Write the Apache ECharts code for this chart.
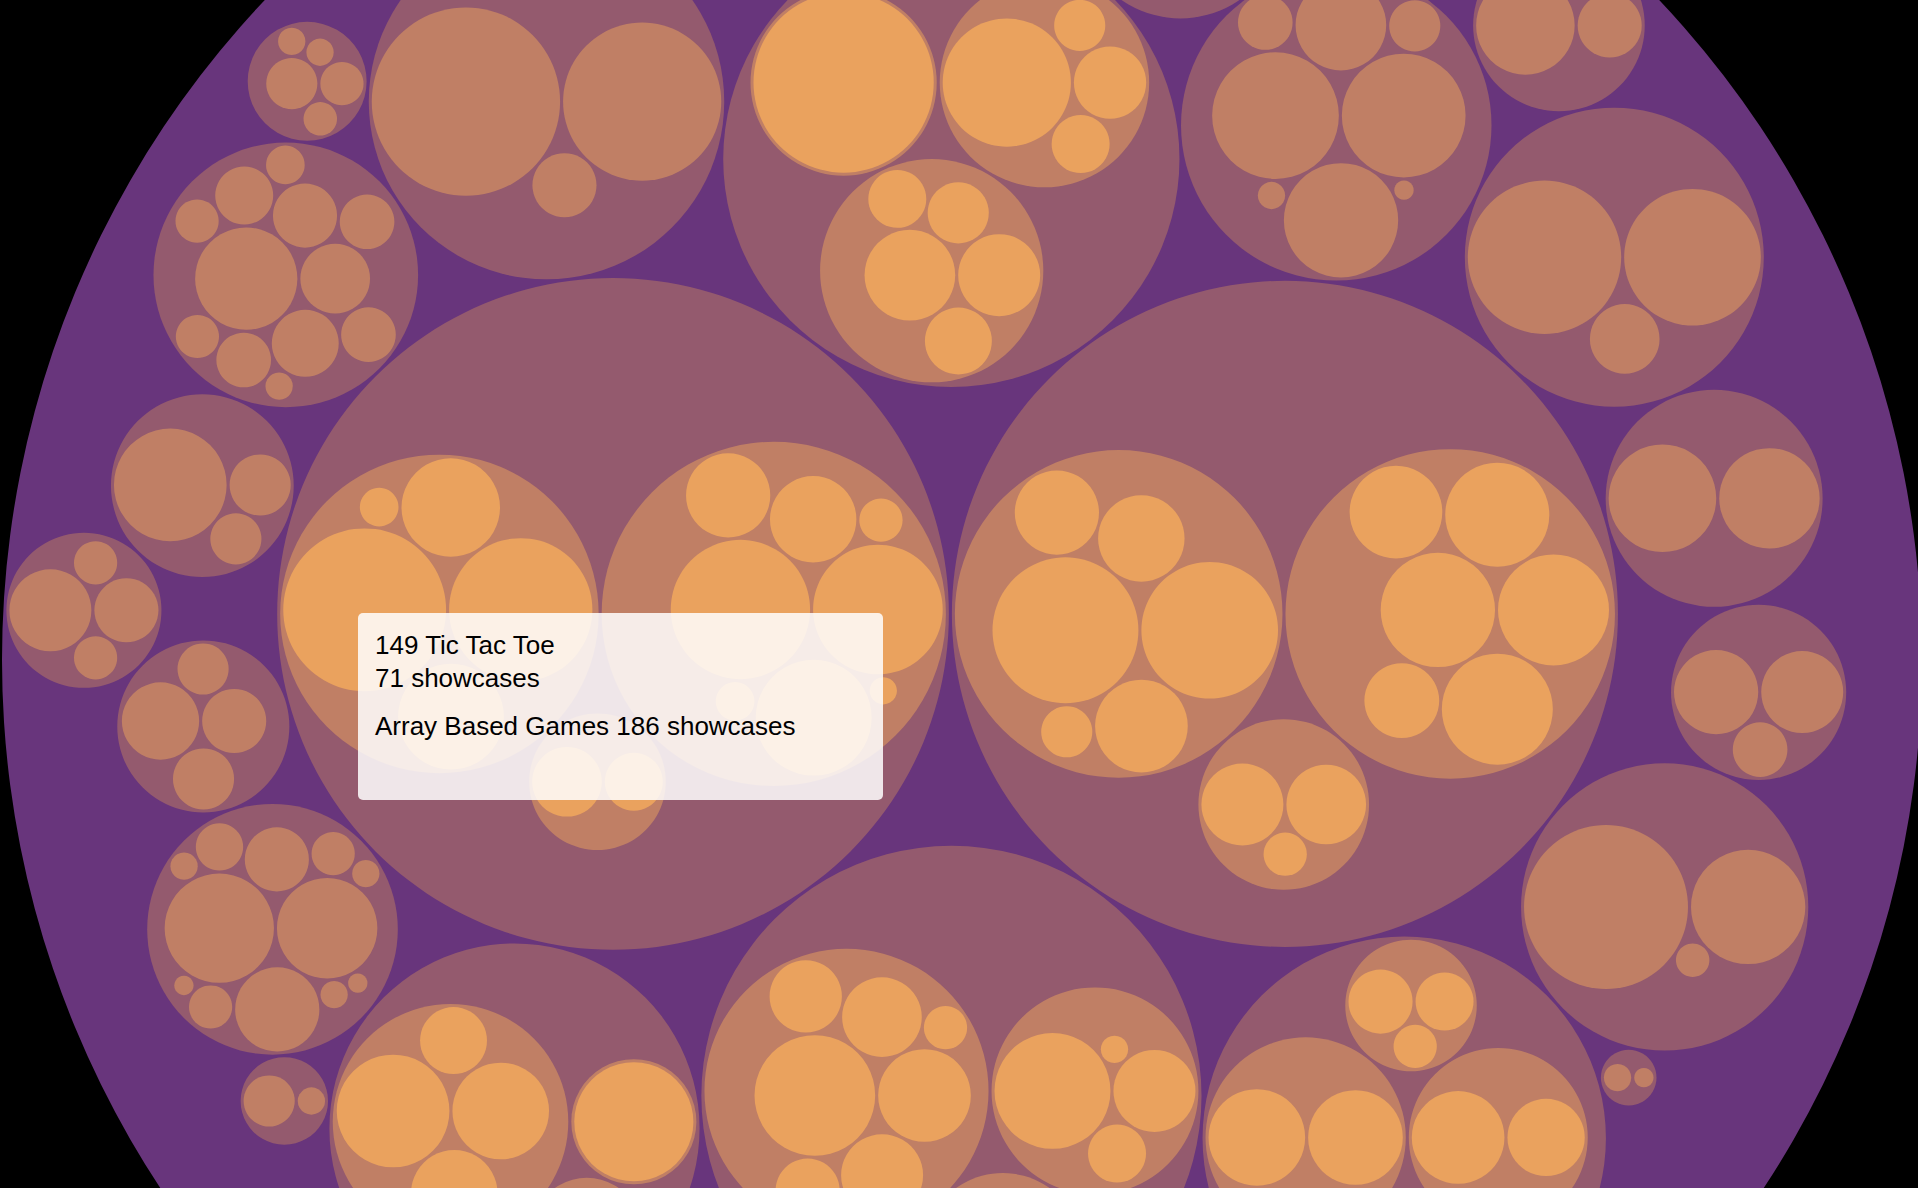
<!DOCTYPE html>
<html>
<head>
<meta charset="utf-8">
<style>
html,body{margin:0;padding:0;background:#000;}
#chart{width:1918px;height:1188px;}
</style>
<script src="https://cdn.jsdelivr.net/npm/echarts@6/dist/echarts.min.js"></script>
</head>
<body>
<div id="chart"></div>
<script>
// ---- DATA: showcases per project.
// Each depth-1 group lists its depth-2 nodes: a number = a leaf (showcases),
// an array = the showcases of its depth-3 leaves. Groups are listed in packing order.
const groupH = [[71, 55, 30, 26, 4], [52, 45, 36, 20, 19, 5, 4, 2], [13, 9]];
const groupI = [[57, 50, 23, 20, 19, 7], [35, 33, 33, 29, 23, 15], [18, 17, 5]];
const groupS = [[39, 23, 18, 17, 14, 11, 5], [36, 18, 9, 2], [15, 14, 11, 2]];
const groupC = [[87], [44, 14, 9, 7], [22, 18, 12, 10, 9]];
const groupB = [95, 67, 11];
const groupD = [43, 41, 35, 22, 8, 7, 2, 1];
const groupR = [[34, 25, 20, 12], [38], [9, 5]];
const groupT = [[25, 24], [23, 16], [11, 9, 6], [11, 9, 5]];
const groupF = [63, 50, 13];
const groupG = [28, 13, 12, 11, 9, 8, 8, 8, 5, 5, 4, 2];
const groupP = [32, 27, 19, 11, 6, 5, 5, 2, 2, 2, 1, 1];
const groupL = [72, 35, 3];
// groups lying mostly outside the visible window (top and bottom of the root circle)
const groupV2 = [28, 25];
const groupV1 = [30, 24];
const groupW1 = [60, 40, 10];
const groupW2 = [60, 40, 10];
const groupJ = [31, 27];
const groupM = [34, 10, 7];
const groupO = [16, 11, 10, 7];
const groupK = [19, 18, 8];
const groupX1 = [26, 24];
const groupX2 = [4, 3];
const groupN = [18, 11, 5, 5];
const groupE = [26, 11];
const groupY1 = [7, 5];
const groupA = [7, 5, 3, 2, 2];
const groupWb = [37, 33];
const groupY2 = [7, 5];
const groupQ = [7, 2];
const groupU = [2, 1];
const groups = [groupH, groupI, groupS, groupC, groupB, groupD, groupR, groupT, groupF, groupG,
  groupP, groupL, groupV2, groupV1, groupW1, groupW2, groupJ, groupM, groupO, groupK, groupX1, groupX2,
  groupN, groupE, groupY1, groupA, groupWb, groupY2, groupQ, groupU];

// tooltip content (hovered project and its parent)
const tipLeafName = '149 Tic Tac Toe';
const tipParentName = 'Array Based Games';
const tipLeafValue = groupH[0][0];
const tipParentValue = groupH[0].reduce((s, v) => s + v, 0);

const depthColors = ['#68357c', '#945a6e', '#c07f65', '#eaa25e'];

// ---- hierarchy
function buildTree() {
  const root = { depth: 0, children: [] };
  groups.forEach(g => {
    const n1 = { depth: 1, children: [] };
    g.forEach(item => {
      if (Array.isArray(item)) n1.children.push({ depth: 2, children: item.map(v => ({ depth: 3, value: v })) });
      else n1.children.push({ depth: 2, value: item });
    });
    root.children.push(n1);
  });
  (function sum(n) { if (n.children) n.value = n.children.reduce((s, c) => s + sum(c), 0); return n.value; })(root);
  (function srt(n) {
    if (n.children) { if (n.depth > 0) n.children.sort((a, b) => b.value - a.value); n.children.forEach(srt); }
  })(root);
  return root;
}

// ---- circle packing (front-chain sibling packing + minimal enclosing circle)
function lcg() { let s = 1; return () => (s = (1664525 * s + 1013904223) % 4294967296) / 4294967296; }
const random = lcg();
function shuffle(a) { let m = a.length, t, i; while (m) { i = random() * m-- | 0; t = a[m]; a[m] = a[i]; a[i] = t; } return a; }
function enclosesNot(a, b) { const dr = a.r - b.r, dx = b.x - a.x, dy = b.y - a.y; return dr < 0 || dr * dr < dx * dx + dy * dy; }
function enclosesWeak(a, b) { const dr = a.r - b.r + Math.max(a.r, b.r, 1) * 1e-9, dx = b.x - a.x, dy = b.y - a.y; return dr > 0 && dr * dr > dx * dx + dy * dy; }
function enclosesWeakAll(a, B) { for (let i = 0; i < B.length; ++i) if (!enclosesWeak(a, B[i])) return false; return true; }
function eb1(a) { return { x: a.x, y: a.y, r: a.r }; }
function eb2(a, b) {
  const x1 = a.x, y1 = a.y, r1 = a.r, x2 = b.x, y2 = b.y, r2 = b.r;
  const x21 = x2 - x1, y21 = y2 - y1, r21 = r2 - r1, l = Math.sqrt(x21 * x21 + y21 * y21);
  return { x: (x1 + x2 + x21 / l * r21) / 2, y: (y1 + y2 + y21 / l * r21) / 2, r: (l + r1 + r2) / 2 };
}
function eb3(a, b, c) {
  const x1 = a.x, y1 = a.y, r1 = a.r, x2 = b.x, y2 = b.y, r2 = b.r, x3 = c.x, y3 = c.y, r3 = c.r;
  const a2 = x1 - x2, a3 = x1 - x3, b2 = y1 - y2, b3 = y1 - y3, c2 = r2 - r1, c3 = r3 - r1;
  const d1 = x1 * x1 + y1 * y1 - r1 * r1, d2 = d1 - x2 * x2 - y2 * y2 + r2 * r2, d3 = d1 - x3 * x3 - y3 * y3 + r3 * r3;
  const ab = a3 * b2 - a2 * b3;
  const xa = (b2 * d3 - b3 * d2) / (ab * 2) - x1, xb = (b3 * c2 - b2 * c3) / ab;
  const ya = (a3 * d2 - a2 * d3) / (ab * 2) - y1, yb = (a2 * c3 - a3 * c2) / ab;
  const A = xb * xb + yb * yb - 1, B = 2 * (r1 + xa * xb + ya * yb), C = xa * xa + ya * ya - r1 * r1;
  const r = -(Math.abs(A) > 1e-6 ? (B + Math.sqrt(B * B - 4 * A * C)) / (2 * A) : C / B);
  return { x: x1 + xa + xb * r, y: y1 + ya + yb * r, r: r };
}
function encloseBasis(B) { return B.length === 1 ? eb1(B[0]) : B.length === 2 ? eb2(B[0], B[1]) : eb3(B[0], B[1], B[2]); }
function extendBasis(B, p) {
  if (enclosesWeakAll(p, B)) return [p];
  for (let i = 0; i < B.length; ++i) if (enclosesNot(p, B[i]) && enclosesWeakAll(eb2(B[i], p), B)) return [B[i], p];
  for (let i = 0; i < B.length - 1; ++i) for (let j = i + 1; j < B.length; ++j) {
    if (enclosesNot(eb2(B[i], B[j]), p) && enclosesNot(eb2(B[i], p), B[j]) &&
        enclosesNot(eb2(B[j], p), B[i]) && enclosesWeakAll(eb3(B[i], B[j], p), B)) return [B[i], B[j], p];
  }
  return [p];
}
function enclose(circles) {
  let i = 0; const list = shuffle(circles.slice()); const n = list.length; let B = [], p, e;
  while (i < n) { p = list[i]; if (e && enclosesWeak(e, p)) ++i; else { B = extendBasis(B, p); e = encloseBasis(B); i = 0; } }
  return e;
}
function place(b, a, c) {
  const dx = b.x - a.x, dy = b.y - a.y, d2 = dx * dx + dy * dy;
  if (d2) {
    let a2 = a.r + c.r; a2 *= a2; let b2 = b.r + c.r; b2 *= b2;
    if (a2 > b2) {
      const x = (d2 + b2 - a2) / (2 * d2), y = Math.sqrt(Math.max(0, b2 / d2 - x * x));
      c.x = b.x - x * dx - y * dy; c.y = b.y - x * dy + y * dx;
    } else {
      const x = (d2 + a2 - b2) / (2 * d2), y = Math.sqrt(Math.max(0, a2 / d2 - x * x));
      c.x = a.x + x * dx - y * dy; c.y = a.y + x * dy + y * dx;
    }
  } else { c.x = a.x + c.r; c.y = a.y; }
}
function intersects(a, b) { const dr = a.r + b.r - 1e-6, dx = b.x - a.x, dy = b.y - a.y; return dr > 0 && dr * dr > dx * dx + dy * dy; }
function LNode(c) { this._ = c; this.next = null; this.previous = null; }
function score(node) {
  const a = node._, b = node.next._, ab = a.r + b.r;
  const dx = (a.x * b.r + b.x * a.r) / ab, dy = (a.y * b.r + b.y * a.r) / ab;
  return dx * dx + dy * dy;
}
function packSiblings(circles) {
  const n = circles.length; if (!n) return 0;
  let a, b, c, aa, ca, i, j, k, sj, sk;
  a = circles[0]; a.x = 0; a.y = 0;
  if (!(n > 1)) return a.r;
  b = circles[1]; a.x = -b.r; b.x = a.r; b.y = 0;
  if (!(n > 2)) return a.r + b.r;
  place(b, a, c = circles[2]);
  a = new LNode(a); b = new LNode(b); c = new LNode(c);
  a.next = c.previous = b; b.next = a.previous = c; c.next = b.previous = a;
  pack: for (i = 3; i < n; ++i) {
    place(a._, b._, c = circles[i]); c = new LNode(c);
    j = b.next; k = a.previous; sj = b._.r; sk = a._.r;
    do {
      if (sj <= sk) {
        if (intersects(j._, c._)) { b = j; a.next = b; b.previous = a; --i; continue pack; }
        sj += j._.r; j = j.next;
      } else {
        if (intersects(k._, c._)) { a = k; a.next = b; b.previous = a; --i; continue pack; }
        sk += k._.r; k = k.previous;
      }
    } while (j !== k.next);
    c.previous = a; c.next = b; a.next = b.previous = b = c;
    aa = score(a);
    while ((c = c.next) !== b) { if ((ca = score(c)) < aa) { a = c; aa = ca; } }
    b = a.next;
  }
  const chain = [b._]; c = b; while ((c = c.next) !== b) chain.push(c._);
  const e = enclose(chain);
  for (i = 0; i < n; ++i) { circles[i].x -= e.x; circles[i].y -= e.y; }
  return e.r;
}
function packChildren(node, pad) {
  if (!node.children) return;
  node.children.forEach(ch => packChildren(ch, pad));
  const cs = node.children;
  if (pad) cs.forEach(ch => { ch.r += pad; });
  const e = packSiblings(cs);
  if (pad) cs.forEach(ch => { ch.r -= pad; });
  node.r = e + pad;
}
function packLayout(root, cx, cy, diameter, padUnits) {
  (function lr(n) { if (n.children) n.children.forEach(lr); else n.r = Math.sqrt(n.value); })(root);
  packChildren(root, padUnits);
  const k = diameter / (2 * root.r);
  root.x = cx; root.y = cy;
  (function tr(n, p) {
    n.r *= k;
    if (p) { n.x = p.x + k * n.x; n.y = p.y + k * n.y; }
    if (n.children) n.children.forEach(ch => tr(ch, n));
  })(root, null);
}

const root = buildTree();
packLayout(root, 962, 660, 1920, 0.155);
const nodes = [];
(function collect(n) { nodes.push(n); if (n.children) n.children.forEach(collect); })(root);
const seriesData = nodes.map((n, i) => [i, n.depth, n.value]);

const chart = echarts.init(document.getElementById('chart'), null, { renderer: 'svg' });
chart.setOption({
  backgroundColor: '#000',
  animation: false,
  series: [{
    type: 'custom', coordinateSystem: 'none', data: seriesData,
    renderItem: function (params, api) {
      const n = nodes[api.value(0)];
      return { type: 'circle', shape: { cx: n.x, cy: n.y, r: n.r }, style: { fill: depthColors[api.value(1)] }, z2: api.value(1) };
    }
  }],
  graphic: [
    { type: 'rect', z: 100, shape: { x: 358, y: 613, width: 525, height: 187, r: 5 }, style: { fill: 'rgba(255,255,255,0.85)' } },
    { type: 'text', z: 101, x: 375, y: 645, style: { text: tipLeafName, fontSize: 26, fontFamily: 'Liberation Sans', fill: '#000', verticalAlign: 'middle' } },
    { type: 'text', z: 101, x: 375, y: 678, style: { text: tipLeafValue + ' showcases', fontSize: 26, fontFamily: 'Liberation Sans', fill: '#000', verticalAlign: 'middle' } },
    { type: 'text', z: 101, x: 375, y: 726, style: { text: tipParentName + ' ' + tipParentValue + ' showcases', fontSize: 26, fontFamily: 'Liberation Sans', fill: '#000', verticalAlign: 'middle' } }
  ]
});
</script>
</body>
</html>
